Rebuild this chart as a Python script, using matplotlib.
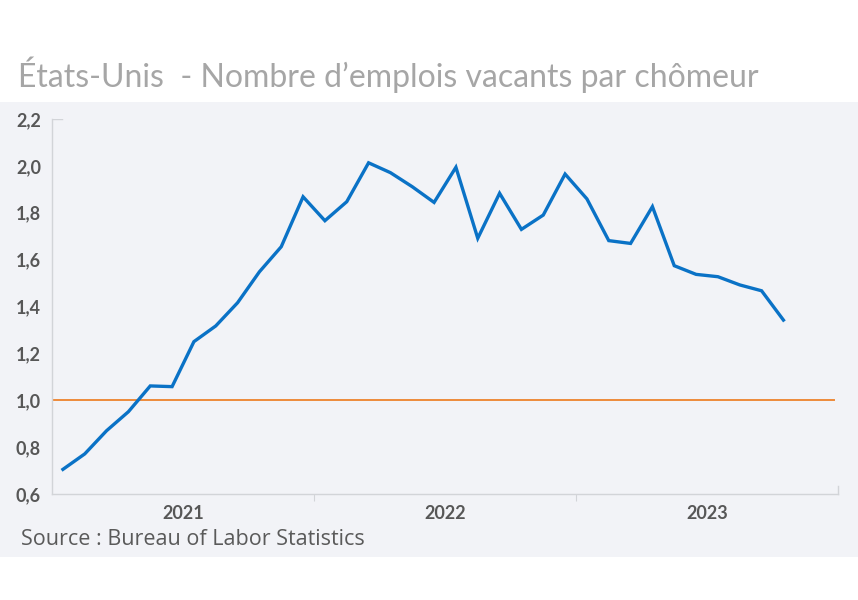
import matplotlib
matplotlib.use("Agg")
import matplotlib.pyplot as plt
from matplotlib.patches import Rectangle
from matplotlib.ticker import FixedLocator, FuncFormatter

# openings per unemployed, monthly Jan 2021 - Oct 2023
ratio = [0.705, 0.771, 0.870, 0.951, 1.061, 1.058, 1.250, 1.317, 1.416, 1.548,
         1.655, 1.868, 1.766, 1.847, 2.013, 1.971, 1.911, 1.844, 1.994, 1.691,
         1.883, 1.729, 1.790, 1.965, 1.859, 1.681, 1.669, 1.826, 1.574, 1.537,
         1.527, 1.492, 1.467, 1.342]
years = ["2021", "2022", "2023"]
y_ticks = [0.6, 0.8, 1.0, 1.2, 1.4, 1.6, 1.8, 2.0, 2.2]
threshold = 1.0

TITLE = "États-Unis  - Nombre d\u2019emplois vacants par chômeur"
SOURCE = "Source : Bureau of Labor Statistics"

PANEL = "#F2F3F7"
BLUE = "#0A72C6"
ORANGE = "#ED8B3A"
SPINE = "#D2D4D8"
TICKCOL = "#575757"

plt.rcParams["font.family"] = ["Lato", "DejaVu Sans"]

fig = plt.figure(figsize=(8.58, 6.0), dpi=100)
fig.patch.set_facecolor("white")
fig.patches.append(Rectangle((0, 0.0717), 1, 0.7583, transform=fig.transFigure,
                             facecolor=PANEL, edgecolor="none", zorder=-5))

ax = fig.add_axes([0.0606, 0.1767, 0.9161, 0.625])
ax.set_zorder(2)
ax.set_facecolor(PANEL)

months = list(range(len(ratio)))
ax.plot(months, ratio, color=BLUE, linewidth=2.4, solid_joinstyle="miter", zorder=3)
ax.axhline(threshold, xmin=0, xmax=0.995, color=ORANGE, linewidth=1.4, zorder=2)

n_months = 12 * len(years)
ax.set_xlim(-0.5, n_months - 0.5)
ax.set_ylim(y_ticks[0], y_ticks[-1])

# year labels centred, boundary ticks as minor ticks
ax.xaxis.set_major_locator(FixedLocator([12 * i + 5.5 for i in range(len(years))]))
ax.set_xticklabels(years)
ax.xaxis.set_minor_locator(FixedLocator([12 * i - 0.5 for i in range(1, len(years))]))
ax.tick_params(axis="x", which="major", length=0, pad=8, labelsize=13, labelcolor=TICKCOL)
ax.tick_params(axis="x", which="minor", length=5, width=0.8, color=SPINE, direction="out")

ax.set_yticks(y_ticks)
ax.yaxis.set_major_formatter(FuncFormatter(lambda v, p: f"{v:.1f}".replace(".", ",")))
ax.tick_params(axis="y", length=0, pad=8, labelsize=13, labelcolor=TICKCOL)
for lab in ax.get_xticklabels() + ax.get_yticklabels():
    lab.set_fontweight("bold")

ax.spines["top"].set_visible(False)
for side in ["left", "bottom", "right"]:
    ax.spines[side].set_color(SPINE)
    ax.spines[side].set_linewidth(1.0)
ax.spines["right"].set_bounds(y_ticks[0], y_ticks[0] + 0.035)
ax.axhline(y_ticks[-1], xmin=0, xmax=0.013, color=SPINE, linewidth=1.0)

fig.text(0.021, 0.875, TITLE, fontsize=23, color="#A6A6A6", va="center", ha="left")
fig.text(0.025, 0.101, SOURCE, fontsize=15.5, color="#5A5A5A", va="center", ha="left",
         family=["Open Sans", "DejaVu Sans"])

fig.savefig("out.png", dpi=100, facecolor="white")
